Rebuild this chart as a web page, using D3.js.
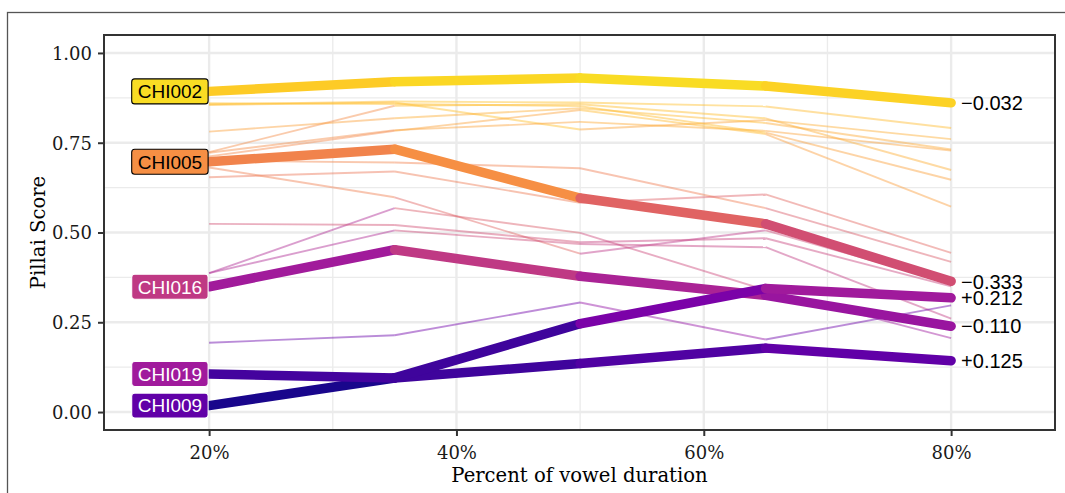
<!DOCTYPE html>
<html>
<head>
<meta charset="utf-8">
<script src="https://cdn.jsdelivr.net/npm/d3@7"></script>
<style>
  html, body { margin: 0; padding: 0; background: #fff; }
  svg { display: block; }
</style>
</head>
<body>
<svg id="chart" width="1065" height="493"></svg>
<script>
// Measurement points along the vowel (percent of duration)
const pct = [20, 35, 50, 65, 80];

// Axis ticks
const xTicks = [20, 40, 60, 80];
const xMinor = [30, 50, 70];
const yTicks = [0, 0.25, 0.5, 0.75, 1];
const yMinor = [0.125, 0.375, 0.625, 0.875];

// Highlighted speakers: Pillai score at each measurement point
const featuredNames = ["CHI002", "CHI005", "CHI009", "CHI016", "CHI019"];
const featuredValues = [
  [0.893, 0.920, 0.930, 0.908, 0.861],
  [0.697, 0.732, 0.596, 0.524, 0.364],
  [0.018, 0.095, 0.135, 0.178, 0.143],
  [0.349, 0.452, 0.378, 0.325, 0.239],
  [0.106, 0.095, 0.246, 0.344, 0.318]
];

// Remaining speakers, drawn faintly in the background
const otherNames = ["CHI001", "CHI003", "CHI004", "CHI006", "CHI007", "CHI008", "CHI010",
                    "CHI011", "CHI012", "CHI013", "CHI014", "CHI015", "CHI017", "CHI018"];
const otherValues = [
  [0.857, 0.865, 0.862, 0.851, 0.791],
  [0.855, 0.862, 0.787, 0.813, 0.760],
  [0.724, 0.853, 0.857, 0.818, 0.674],
  [0.781, 0.818, 0.846, 0.805, 0.731],
  [0.722, 0.785, 0.808, 0.783, 0.728],
  [0.712, 0.783, 0.841, 0.774, 0.572],
  [0.860, 0.858, 0.852, 0.778, 0.647],
  [0.700, 0.695, 0.679, 0.568, 0.418],
  [0.654, 0.670, 0.583, 0.606, 0.443],
  [0.681, 0.598, 0.441, 0.506, 0.360],
  [0.387, 0.568, 0.499, 0.340, 0.206],
  [0.524, 0.521, 0.473, 0.484, 0.350],
  [0.387, 0.506, 0.468, 0.459, 0.260],
  [0.193, 0.214, 0.305, 0.202, 0.297]
];

const svg = d3.select("#chart");
const panel = { left: 104, top: 35, right: 1055, bottom: 430 };

const x = d3.scaleLinear().domain([11.5, 88.4]).range([panel.left, panel.right]);
const y = d3.scaleLinear().domain([-0.05, 1.05]).range([panel.bottom, panel.top]);
const color = d3.interpolatePlasma;

const serif = "'DejaVu Serif', serif";
const sans = "'Liberation Sans', Arial, sans-serif";

// Outer frame
svg.append("rect")
  .attr("x", 7.5).attr("y", 12.5).attr("width", 1200).attr("height", 600)
  .attr("fill", "none").attr("stroke", "#555").attr("stroke-width", 1.3);

// Panel background
svg.append("rect")
  .attr("x", panel.left).attr("y", panel.top)
  .attr("width", panel.right - panel.left).attr("height", panel.bottom - panel.top)
  .attr("fill", "#fff");

const grid = svg.append("g");
// Minor grid
grid.selectAll(".xm").data(xMinor).join("line")
  .attr("x1", d => x(d)).attr("x2", d => x(d))
  .attr("y1", panel.top).attr("y2", panel.bottom)
  .attr("stroke", "#ebebeb").attr("stroke-width", 1.3);
grid.selectAll(".ym").data(yMinor).join("line")
  .attr("y1", d => y(d)).attr("y2", d => y(d))
  .attr("x1", panel.left).attr("x2", panel.right)
  .attr("stroke", "#ebebeb").attr("stroke-width", 1.3);
// Major grid
grid.selectAll(".xM").data(xTicks).join("line")
  .attr("x1", d => x(d)).attr("x2", d => x(d))
  .attr("y1", panel.top).attr("y2", panel.bottom)
  .attr("stroke", "#ebebeb").attr("stroke-width", 2.4);
grid.selectAll(".yM").data(yTicks).join("line")
  .attr("y1", d => y(d)).attr("y2", d => y(d))
  .attr("x1", panel.left).attr("x2", panel.right)
  .attr("stroke", "#ebebeb").attr("stroke-width", 2.4);

// Split a trajectory into segments, each coloured by its starting value
function segments(values) {
  return d3.pairs(values.map((v, i) => ({ p: pct[i], v })));
}

const plot = svg.append("g");

// Background speakers
otherValues.forEach(vals => {
  plot.append("g").selectAll("line").data(segments(vals)).join("line")
    .attr("x1", d => x(d[0].p)).attr("y1", d => y(d[0].v))
    .attr("x2", d => x(d[1].p)).attr("y2", d => y(d[1].v))
    .attr("stroke", d => color(d[0].v))
    .attr("stroke-opacity", 0.45)
    .attr("stroke-width", 1.9)
    .attr("stroke-linecap", "butt");
});

// Highlighted speakers
featuredValues.forEach(vals => {
  plot.append("g").selectAll("line").data(segments(vals)).join("line")
    .attr("x1", d => x(d[0].p)).attr("y1", d => y(d[0].v))
    .attr("x2", d => x(d[1].p)).attr("y2", d => y(d[1].v))
    .attr("stroke", d => color(d[0].v))
    .attr("stroke-width", 9.5)
    .attr("stroke-linecap", "round");
});

// Change from first to last point, written at the line end
const fmt = d3.format("+.3f");
plot.selectAll(".end").data(featuredValues).join("text")
  .attr("x", d => x(pct[pct.length - 1]) + 10)
  .attr("y", d => y(d[d.length - 1]))
  .attr("dy", "0.36em")
  .attr("font-family", sans).attr("font-size", 20)
  .attr("fill", "#000")
  .text(d => fmt(+(d[d.length - 1] - d[0]).toFixed(3)));

// Speaker labels at the start of each highlighted line
const labels = plot.selectAll(".lab").data(featuredNames.map((n, i) => ({ name: n, vals: featuredValues[i] })))
  .join("g");
labels.each(function(d) {
  const g = d3.select(this);
  const fill = color(d3.max(d.vals));
  const ink = d3.lab(fill).l > 60 ? "#000" : "#fff";
  const t = g.append("text")
    .attr("font-family", sans).attr("font-size", 19)
    .attr("text-anchor", "middle")
    .attr("fill", ink)
    .text(d.name);
  const w = t.node().getComputedTextLength() + 12;
  const h = 25;
  const right = x(pct[0]) - 1;
  const cy = y(d.vals[0]);
  g.insert("rect", "text")
    .attr("x", right - w).attr("y", cy - h / 2)
    .attr("width", w).attr("height", h)
    .attr("rx", 3).attr("ry", 3)
    .attr("fill", fill)
    .attr("stroke", ink).attr("stroke-width", 1.1);
  t.attr("x", right - w / 2).attr("y", cy + 6.8);
});

// Panel border
svg.append("rect")
  .attr("x", panel.left).attr("y", panel.top)
  .attr("width", panel.right - panel.left).attr("height", panel.bottom - panel.top)
  .attr("fill", "none").attr("stroke", "#333").attr("stroke-width", 2);

// Axes
const xAxis = d3.axisBottom(x).tickValues(xTicks).tickFormat(d => d + "%").tickSize(6).tickPadding(6);
const yAxis = d3.axisLeft(y).tickValues(yTicks).tickFormat(d3.format(".2f")).tickSize(6).tickPadding(6);

const gx = svg.append("g").attr("transform", `translate(0,${panel.bottom})`).call(xAxis);
const gy = svg.append("g").attr("transform", `translate(${panel.left},0)`).call(yAxis);
[gx, gy].forEach(g => {
  g.select(".domain").remove();
  g.selectAll(".tick line").attr("stroke", "#333").attr("stroke-width", 2);
  g.selectAll(".tick text").attr("font-family", serif).attr("font-size", 18).attr("fill", "#1a1a1a");
});
gx.selectAll(".tick text").attr("dy", "0.95em");
gy.selectAll(".tick text").attr("dy", "0.36em");

// Axis titles
svg.append("text")
  .attr("x", (panel.left + panel.right) / 2).attr("y", 482)
  .attr("text-anchor", "middle")
  .attr("font-family", serif).attr("font-size", 19.6).attr("fill", "#000")
  .text("Percent of vowel duration");
svg.append("text")
  .attr("transform", `translate(45,${(panel.top + panel.bottom) / 2}) rotate(-90)`)
  .attr("text-anchor", "middle")
  .attr("font-family", serif).attr("font-size", 19.6).attr("fill", "#000")
  .text("Pillai Score");
</script>
</body>
</html>
